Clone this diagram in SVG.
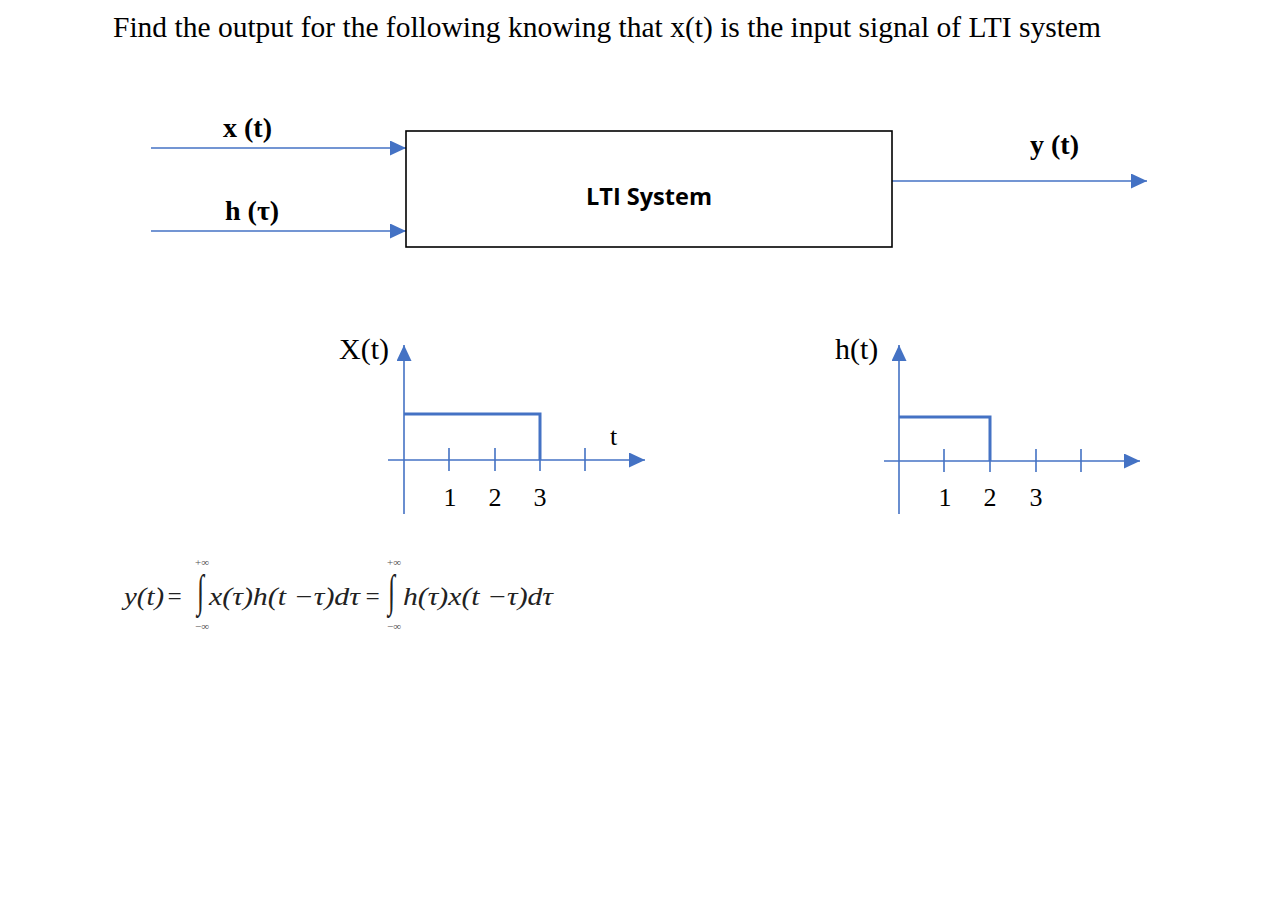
<svg xmlns="http://www.w3.org/2000/svg" width="1265" height="904" viewBox="0 0 1265 904">
<style>
.ln{stroke:#4472C4;stroke-width:1.3;fill:none}
.ax{stroke:#4472C4;stroke-width:1.6;fill:none}
.sig{stroke:#4472C4;stroke-width:3;fill:none}
.num{font-size:26px;text-anchor:middle}
.eq{font-style:italic;font-size:25px;fill:#222}
.lim{font-size:11px;fill:#555}
</style>
<defs>
<marker id="ah" markerUnits="userSpaceOnUse" markerWidth="17" markerHeight="15" refX="16" refY="7.5" orient="auto">
<path d="M0,0 L16,7.5 L0,15 Z" fill="#4472C4"/>
</marker>
</defs>
<rect width="1265" height="904" fill="#fff"/>
<g font-family="Liberation Serif, Times New Roman, serif">
<text x="113" y="37" font-size="29.5">Find the output for the following knowing that x(t) is the input signal of LTI system</text>

<g id="connectors">
<line class="ln" x1="151" y1="148" x2="406" y2="148" marker-end="url(#ah)"/>
<line class="ln" x1="151" y1="231" x2="406" y2="231" marker-end="url(#ah)"/>
<line class="ln" x1="892" y1="181" x2="1147" y2="181" marker-end="url(#ah)"/>
</g>
<g id="lbl-x">
<text x="223" y="137" font-weight="bold" font-size="28">x (t)</text>
</g>
<g id="lbl-h">
<text x="225" y="220" font-weight="bold" font-size="28">h (τ)</text>
</g>
<g id="lbl-y">
<text x="1030" y="154" font-weight="bold" font-size="28">y (t)</text>
</g>
<g id="lti">
<rect x="406" y="131" width="486" height="116" fill="#fff" stroke="#000" stroke-width="1.6"/>
<text x="649" y="205" text-anchor="middle" font-family="Open Sans, Liberation Sans, sans-serif" font-weight="bold" font-size="23.5">LTI System</text>
</g>

<g id="graph-x">
<line class="ax" x1="404" y1="514" x2="404" y2="345" marker-end="url(#ah)"/>
<line class="ax" x1="388" y1="460" x2="645" y2="460" marker-end="url(#ah)"/>
<path class="ax" d="M449,448 V471 M495,448 V471 M540,448 V471 M585,448 V471"/>
<path class="sig" d="M404,414 H540 V460"/>
<text class="num" x="450" y="506">1</text>
<text class="num" x="495" y="506">2</text>
<text class="num" x="540" y="506">3</text>
<text x="610" y="445" font-size="26">t</text>
<text x="339" y="359" font-size="30">X(t)</text>
</g>

<g id="graph-h">
<line class="ax" x1="899" y1="514" x2="899" y2="345" marker-end="url(#ah)"/>
<line class="ax" x1="884" y1="461" x2="1140" y2="461" marker-end="url(#ah)"/>
<path class="ax" d="M944,449 V472 M990,449 V472 M1036,449 V472 M1081,449 V472"/>
<path class="sig" d="M899,417 H990 V461"/>
<text class="num" x="945" y="506">1</text>
<text class="num" x="990" y="506">2</text>
<text class="num" x="1036" y="506">3</text>
<text x="835" y="359" font-size="30">h(t)</text>
</g>

<g id="formula">
<text class="eq" x="124" y="605" textLength="40" lengthAdjust="spacingAndGlyphs">y(t)</text>
<text class="eq" x="166" y="605" font-style="normal">=</text>
<text class="eq" font-size="36" font-style="normal" transform="translate(197,606) scale(1,1.8)">∫</text>
<text class="eq" x="209" y="605" textLength="151" lengthAdjust="spacingAndGlyphs">x(τ)h(t −τ)dτ</text>
<text class="eq" x="364" y="605" font-style="normal">=</text>
<text class="eq" font-size="36" font-style="normal" transform="translate(388,606) scale(1,1.8)">∫</text>
<text class="eq" x="403" y="605" textLength="150" lengthAdjust="spacingAndGlyphs">h(τ)x(t −τ)dτ</text>
<text class="lim" x="195" y="566">+∞</text>
<text class="lim" x="195" y="630">−∞</text>
<text class="lim" x="387" y="566">+∞</text>
<text class="lim" x="387" y="630">−∞</text>
</g>
</g>
</svg>
